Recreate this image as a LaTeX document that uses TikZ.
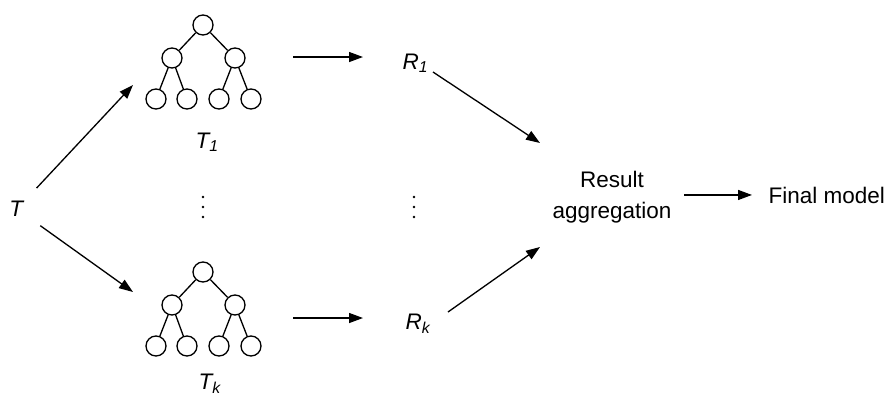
\documentclass[tikz,border=0pt]{standalone}
\usepackage{fontspec}
\setmainfont{Liberation Sans}
\usepackage{tikz}
\usetikzlibrary{arrows.meta}

\begin{document}
\begin{tikzpicture}[x=0.02cm, y=-0.02cm, line width=0.75pt,
    >={Triangle[length=0.28cm, width=0.2cm]},
    treenode/.style={circle, draw, minimum size=0.4cm, inner sep=0pt},
    lbl/.style={font=\fontsize{12.8}{17.6}\selectfont, inner sep=0pt}]
    \useasboundingbox (0,0) rectangle (887,397);

    % Sample trees (top one and the k-th one below it)
    \foreach \t/\dy in {1/0, k/247} {
        \node[treenode] (r\t)  at (203, 25+\dy) {};
        \node[treenode] (a\t)  at (172, 58+\dy) {};
        \node[treenode] (b\t)  at (235, 58+\dy) {};
        \node[treenode] (a\t1) at (156, 99+\dy) {};
        \node[treenode] (a\t2) at (187, 99+\dy) {};
        \node[treenode] (b\t1) at (219, 99+\dy) {};
        \node[treenode] (b\t2) at (251, 99+\dy) {};
        \draw (r\t) -- (a\t) (r\t) -- (b\t)
              (a\t) -- (a\t1) (a\t) -- (a\t2)
              (b\t) -- (b\t1) (b\t) -- (b\t2);
    }

    % Labels
    \node[lbl, circle, minimum size=1.12cm] (T) at (17,209) {\textit{T}};
    \node[lbl, anchor=base west] (T1) at (195,148) {\textit{T\textsubscript{1}}};
    \node[lbl, anchor=base west] (Tk) at (198,389) {\textit{T\textsubscript{k}}};
    \node[lbl, anchor=base west] (R1) at (402,69) {\textit{R\textsubscript{1}}};
    \node[lbl, anchor=base west] (Rk) at (405,329) {\textit{R\textsubscript{k}}};
    \node[lbl, anchor=north, align=center] (agg) at (612,171) {Result\\aggregation};
    \node[lbl, anchor=base west] (final) at (768,203) {Final model};

    % Free ends of the arrows
    \coordinate (in1) at (133,85);
    \coordinate (ink) at (133,292);
    \coordinate (out1) at (293,57);
    \coordinate (res1) at (363,57);
    \coordinate (outk) at (293,318);
    \coordinate (resk) at (363,318);
    \coordinate (from1) at (433,72);
    \coordinate (fromk) at (448,312);
    \coordinate (to1) at (540,143);
    \coordinate (tok) at (540,247);

    % Arrows
    \draw[->] (T) -- (in1);
    \draw[->] (T) -- (ink);
    \draw[->] (out1) -- (res1);
    \draw[->] (outk) -- (resk);
    \draw[->] (from1) -- (to1);
    \draw[->] (fromk) -- (tok);
    \draw[->, shorten <=0.24cm, shorten >=0.32cm] (agg.east |- final.west) -- (final.west);

    % Vertical dots
    \foreach \y in {197,207,217} {
        \fill (203,\y) circle (1.3);
        \fill (414,\y) circle (1.3);
    }
\end{tikzpicture}
\end{document}
